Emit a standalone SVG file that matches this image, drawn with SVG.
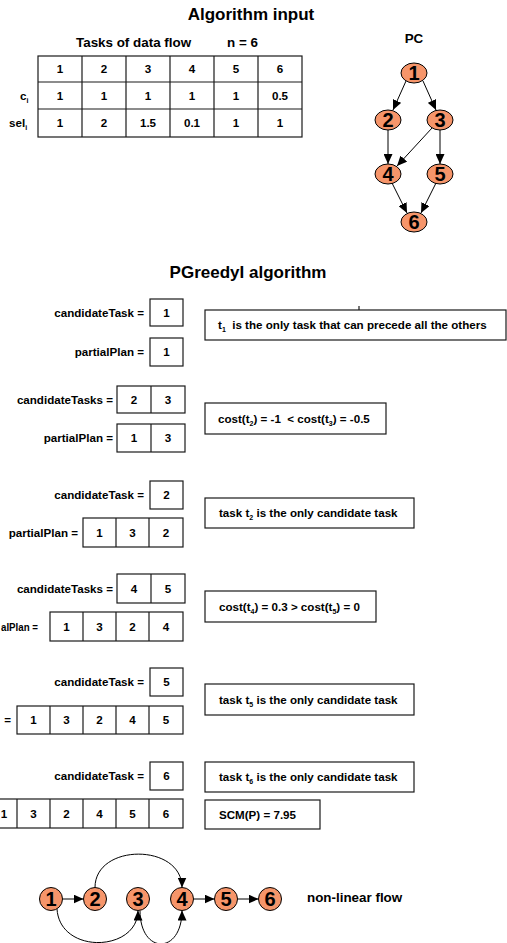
<svg xmlns="http://www.w3.org/2000/svg" width="507" height="943" viewBox="0 0 507 943">
<style>
.t{font-family:"Liberation Sans",Arial,sans-serif;font-weight:bold;font-size:11.6px;fill:#000}
.c{text-anchor:middle}
.e{text-anchor:end}
.h{font-size:17px}
.m{font-size:13.4px}
.sub{font-size:7px}
.box{fill:#fff;stroke:#1a1a1a;stroke-width:1.2}
.ln{stroke:#1a1a1a;stroke-width:1.2}
.node{fill:#F6956A;stroke:#000;stroke-width:1}
.num{font-size:20px;text-anchor:middle}
.edge{stroke:#000;stroke-width:1;fill:none;marker-end:url(#ah)}
</style>
<defs>
<marker id="ah" markerWidth="10" markerHeight="9" refX="10" refY="4.5" orient="auto" markerUnits="userSpaceOnUse"><path d="M0,0 L10,4.5 L0,9 z" fill="#000"/></marker>
</defs>
<rect width="507" height="943" fill="#fff"/>

<!-- Algorithm input -->
<g id="title-input"><text class="t c h" x="251" y="20">Algorithm input</text></g>
<g id="table">
<text class="t m" x="76" y="47">Tasks of data flow</text>
<text class="t m" x="227" y="47">n = 6</text>
<rect class="box" x="38" y="56" width="264" height="81"/>
<line class="ln" x1="38" y1="82" x2="302" y2="82"/>
<line class="ln" x1="38" y1="109" x2="302" y2="109"/>
<line class="ln" x1="82" y1="56" x2="82" y2="137"/>
<line class="ln" x1="126" y1="56" x2="126" y2="137"/>
<line class="ln" x1="170" y1="56" x2="170" y2="137"/>
<line class="ln" x1="214" y1="56" x2="214" y2="137"/>
<line class="ln" x1="258" y1="56" x2="258" y2="137"/>
<text class="t" x="20" y="100">c<tspan class="sub" dy="3">i</tspan></text>
<text class="t" x="9" y="127">sel<tspan class="sub" dy="3">i</tspan></text>
<g class="t c">
<text x="60" y="73">1</text><text x="104" y="73">2</text><text x="148" y="73">3</text><text x="192" y="73">4</text><text x="236" y="73">5</text><text x="280" y="73">6</text>
<text x="60" y="100">1</text><text x="104" y="100">1</text><text x="148" y="100">1</text><text x="192" y="100">1</text><text x="236" y="100">1</text><text x="280" y="100">0.5</text>
<text x="60" y="127">1</text><text x="104" y="127">2</text><text x="148" y="127">1.5</text><text x="192" y="127">0.1</text><text x="236" y="127">1</text><text x="280" y="127">1</text>
</g>
</g>

<!-- PC graph -->
<g id="pc-label"><text class="t c m" x="414" y="43">PC</text></g>
<g id="pc-edges">
<line class="edge" x1="406" y1="81" x2="393" y2="110"/>
<line class="edge" x1="423" y1="81" x2="436" y2="110"/>
<line class="edge" x1="388" y1="130" x2="388" y2="164"/>
<line class="edge" x1="432" y1="128" x2="397" y2="166"/>
<line class="edge" x1="440" y1="130" x2="440" y2="164"/>
<line class="edge" x1="392" y1="183" x2="407" y2="213"/>
<line class="edge" x1="436" y1="183" x2="421" y2="213"/>
</g>
<g id="pc1"><ellipse class="node" cx="414" cy="73" rx="13" ry="10"/><text class="t num" x="414" y="80">1</text></g>
<g id="pc2"><ellipse class="node" cx="388" cy="120" rx="13" ry="10"/><text class="t num" x="388" y="127">2</text></g>
<g id="pc3"><ellipse class="node" cx="440" cy="120" rx="13" ry="10"/><text class="t num" x="440" y="127">3</text></g>
<g id="pc4"><ellipse class="node" cx="388" cy="174" rx="13" ry="10"/><text class="t num" x="388" y="181">4</text></g>
<g id="pc5"><ellipse class="node" cx="440" cy="174" rx="13" ry="10"/><text class="t num" x="440" y="181">5</text></g>
<g id="pc6"><ellipse class="node" cx="414" cy="222" rx="13" ry="10"/><text class="t num" x="414" y="229">6</text></g>

<!-- PGreedyI algorithm -->
<g id="title-algo"><text class="t c h" x="248" y="278">PGreedyI algorithm</text></g>

<!-- step 1 -->
<g id="s1-cand">
<text class="t e" x="144" y="317">candidateTask =</text>
<rect class="box" x="150" y="299" width="33" height="27"/>
<text class="t c" x="166.5" y="317">1</text>
</g>
<g id="s1-plan">
<text class="t e" x="144" y="356">partialPlan =</text>
<rect class="box" x="150" y="338" width="33" height="28"/>
<text class="t c" x="166.5" y="356">1</text>
</g>
<g id="s1-note">
<rect class="box" x="205" y="310" width="301" height="30"/>
<line class="ln" x1="359" y1="306" x2="359" y2="310"/>
<text class="t" x="218" y="329">t<tspan class="sub" dy="3">1</tspan><tspan dy="-3">&#160; is the only task that can precede all the others</tspan></text>
</g>

<!-- step 2 -->
<g id="s2-cand">
<text class="t e" x="113" y="404">candidateTasks =</text>
<rect class="box" x="117" y="386" width="68" height="27"/>
<line class="ln" x1="151" y1="386" x2="151" y2="413"/>
<text class="t c" x="134" y="404">2</text><text class="t c" x="168" y="404">3</text>
</g>
<g id="s2-plan">
<text class="t e" x="113" y="442">partialPlan =</text>
<rect class="box" x="117" y="424" width="68" height="28"/>
<line class="ln" x1="151" y1="424" x2="151" y2="452"/>
<text class="t c" x="134" y="442">1</text><text class="t c" x="168" y="442">3</text>
</g>
<g id="s2-note">
<rect class="box" x="205" y="403" width="181" height="31"/>
<text class="t" x="218" y="423">cost(t<tspan class="sub" dy="3">2</tspan><tspan dy="-3">) = -1 &#160;&lt; cost(t</tspan><tspan class="sub" dy="3">3</tspan><tspan dy="-3">) = -0.5</tspan></text>
</g>

<!-- step 3 -->
<g id="s3-cand">
<text class="t e" x="144" y="499">candidateTask =</text>
<rect class="box" x="150" y="481" width="33" height="28"/>
<text class="t c" x="166.5" y="499">2</text>
</g>
<g id="s3-plan">
<text class="t e" x="78" y="537">partialPlan =</text>
<rect class="box" x="83" y="518" width="100" height="29"/>
<line class="ln" x1="116" y1="518" x2="116" y2="547"/>
<line class="ln" x1="149" y1="518" x2="149" y2="547"/>
<text class="t c" x="99.5" y="537">1</text><text class="t c" x="132.5" y="537">3</text><text class="t c" x="166" y="537">2</text>
</g>
<g id="s3-note">
<rect class="box" x="205" y="498" width="209" height="30"/>
<text class="t" x="219" y="517">task t<tspan class="sub" dy="3">2</tspan><tspan dy="-3"> is the only candidate task</tspan></text>
</g>

<!-- step 4 -->
<g id="s4-cand">
<text class="t e" x="113" y="593">candidateTasks =</text>
<rect class="box" x="117" y="574" width="68" height="29"/>
<line class="ln" x1="151" y1="574" x2="151" y2="603"/>
<text class="t c" x="134" y="593">4</text><text class="t c" x="168" y="593">5</text>
</g>
<g id="s4-plan">
<text class="t" x="1" y="631" textLength="37" lengthAdjust="spacingAndGlyphs">alPlan =</text>
<rect class="box" x="50" y="612" width="133" height="29"/>
<line class="ln" x1="83" y1="612" x2="83" y2="641"/>
<line class="ln" x1="116" y1="612" x2="116" y2="641"/>
<line class="ln" x1="149" y1="612" x2="149" y2="641"/>
<text class="t c" x="66.5" y="631">1</text><text class="t c" x="99.5" y="631">3</text><text class="t c" x="132.5" y="631">2</text><text class="t c" x="166" y="631">4</text>
</g>
<g id="s4-note">
<rect class="box" x="205" y="591" width="171" height="31"/>
<text class="t" x="219" y="611">cost(t<tspan class="sub" dy="3">4</tspan><tspan dy="-3">) = 0.3 &gt; cost(t</tspan><tspan class="sub" dy="3">5</tspan><tspan dy="-3">) = 0</tspan></text>
</g>

<!-- step 5 -->
<g id="s5-cand">
<text class="t e" x="144" y="686">candidateTask =</text>
<rect class="box" x="150" y="668" width="33" height="28"/>
<text class="t c" x="166.5" y="686">5</text>
</g>
<g id="s5-plan">
<text class="t e" x="11" y="724">=</text>
<rect class="box" x="17" y="706" width="166" height="28"/>
<line class="ln" x1="50" y1="706" x2="50" y2="734"/>
<line class="ln" x1="83" y1="706" x2="83" y2="734"/>
<line class="ln" x1="116" y1="706" x2="116" y2="734"/>
<line class="ln" x1="149" y1="706" x2="149" y2="734"/>
<text class="t c" x="33.5" y="724">1</text><text class="t c" x="66.5" y="724">3</text><text class="t c" x="99.5" y="724">2</text><text class="t c" x="132.5" y="724">4</text><text class="t c" x="166" y="724">5</text>
</g>
<g id="s5-note">
<rect class="box" x="205" y="684" width="209" height="31"/>
<text class="t" x="219" y="704">task t<tspan class="sub" dy="3">5</tspan><tspan dy="-3"> is the only candidate task</tspan></text>
</g>

<!-- step 6 -->
<g id="s6-cand">
<text class="t e" x="144" y="780">candidateTask =</text>
<rect class="box" x="150" y="762" width="33" height="28"/>
<text class="t c" x="166.5" y="780">6</text>
</g>
<g id="s6-note">
<rect class="box" x="205" y="762" width="209" height="30"/>
<text class="t" x="219" y="781">task t<tspan class="sub" dy="3">6</tspan><tspan dy="-3"> is the only candidate task</tspan></text>
</g>
<g id="s6-plan">
<rect class="box" x="-16" y="799" width="199" height="29"/>
<line class="ln" x1="17" y1="799" x2="17" y2="828"/>
<line class="ln" x1="50" y1="799" x2="50" y2="828"/>
<line class="ln" x1="83" y1="799" x2="83" y2="828"/>
<line class="ln" x1="116" y1="799" x2="116" y2="828"/>
<line class="ln" x1="149" y1="799" x2="149" y2="828"/>
<text class="t c" x="4" y="818">1</text><text class="t c" x="33.5" y="818">3</text><text class="t c" x="66.5" y="818">2</text><text class="t c" x="99.5" y="818">4</text><text class="t c" x="132.5" y="818">5</text><text class="t c" x="166" y="818" font-weight="normal">6</text>
</g>
<g id="s6-scm">
<rect class="box" x="205" y="800" width="115" height="29"/>
<text class="t" x="219" y="819">SCM(P) = 7.95</text>
</g>

<!-- non-linear flow -->
<g id="flow-edges">
<line class="edge" x1="62.5" y1="899" x2="83.5" y2="899"/>
<line class="edge" x1="193.5" y1="899" x2="214.5" y2="899"/>
<line class="edge" x1="237.5" y1="899" x2="258.5" y2="899"/>
<path class="edge" d="M95,887.5 C95,843 182,843 182,887.5"/>
<path class="edge" d="M57,909 C60,955 138,952 138,910.5"/>
<path class="edge" d="M140,910.5 C140,955 182,955 182,910.5"/>
</g>
<g id="f1"><circle class="node" cx="51" cy="899" r="11.5"/><text class="t num" x="51" y="906">1</text></g>
<g id="f2"><circle class="node" cx="95" cy="899" r="11.5"/><text class="t num" x="95" y="906">2</text></g>
<g id="f3"><circle class="node" cx="138" cy="899" r="11.5"/><text class="t num" x="138" y="906">3</text></g>
<g id="f4"><circle class="node" cx="182" cy="899" r="11.5"/><text class="t num" x="182" y="906">4</text></g>
<g id="f5"><circle class="node" cx="226" cy="899" r="11.5"/><text class="t num" x="226" y="906">5</text></g>
<g id="f6"><circle class="node" cx="270" cy="899" r="11.5"/><text class="t num" x="270" y="906">6</text></g>
<g id="flow-label"><text class="t m" x="307" y="902">non-linear flow</text></g>
</svg>
